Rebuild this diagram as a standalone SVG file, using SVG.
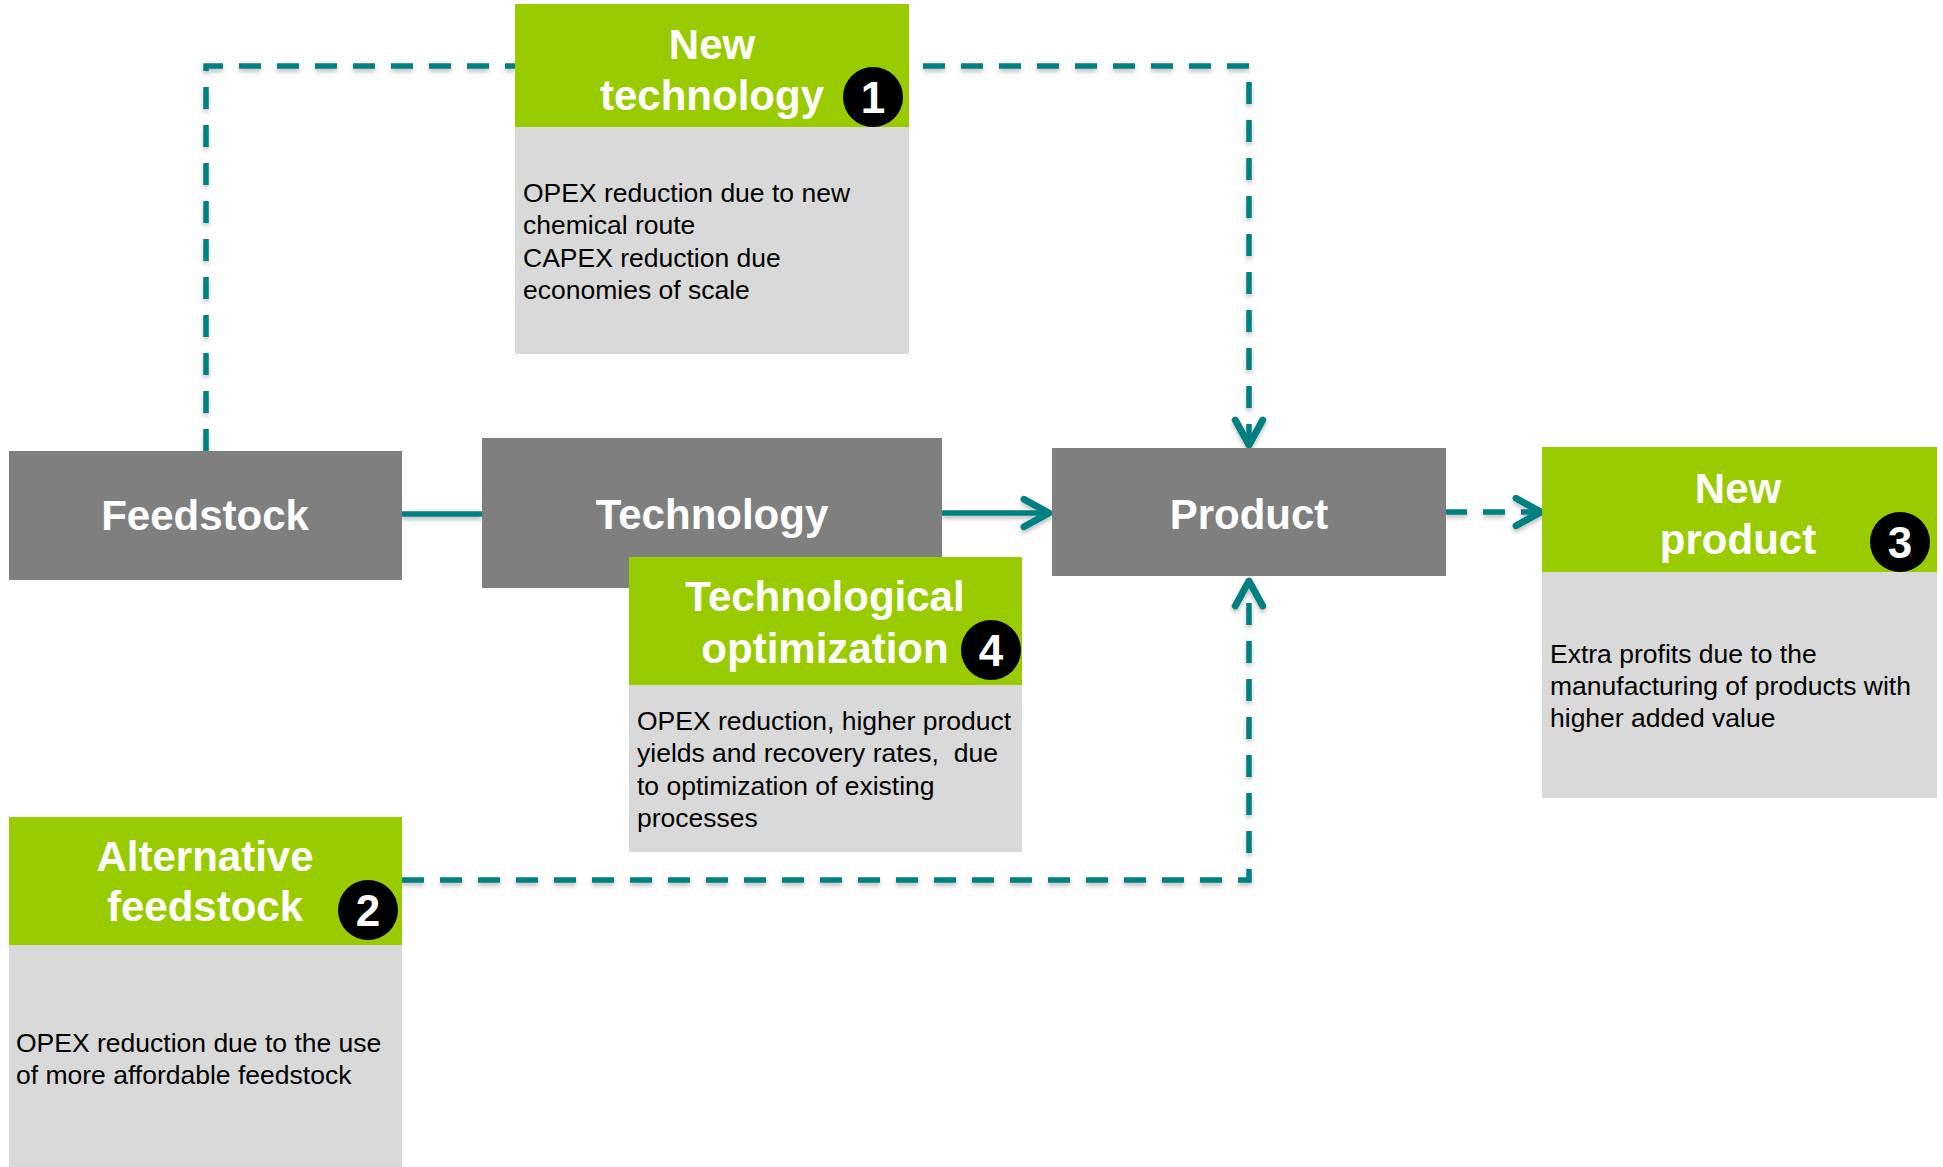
<svg xmlns="http://www.w3.org/2000/svg" width="1943" height="1167" viewBox="0 0 1943 1167">
<style>
.bg{fill:#ffffff}
.grey{fill:#7f7f7f}
.green{fill:#99cc00}
.light{fill:#d9d9d9}
.title{font-family:"Liberation Sans",Arial,sans-serif;font-weight:bold;font-size:42px;fill:#ffffff;text-anchor:middle}
.num{font-family:"Liberation Sans",Arial,sans-serif;font-weight:bold;font-size:44px;fill:#ffffff;text-anchor:middle}
.body{font-family:"Liberation Sans",Arial,sans-serif;font-size:26.5px;fill:#000000}
.conn{fill:none;stroke:#008080;stroke-width:5.5}
.dash{stroke-dasharray:22 16}
</style>
<defs>
<filter id="sh" x="-10%" y="-10%" width="120%" height="120%">
<feDropShadow dx="0" dy="3" stdDeviation="2" flood-color="#000000" flood-opacity="0.25"/>
</filter>
<marker id="arr" markerUnits="userSpaceOnUse" markerWidth="40" markerHeight="40" viewBox="-26 -16 30 32" refX="0" refY="0" orient="auto" overflow="visible">
<path d="M-20,-11 L0,0 L-20,11" fill="none" stroke="#008080" stroke-width="5.5" stroke-linecap="round" stroke-linejoin="round" stroke-dasharray="none"/>
</marker>
</defs>
<rect class="bg" x="0" y="0" width="1943" height="1167"/>

<g id="connectors" filter="url(#sh)">
<path class="conn dash" d="M206,451 L206,66 L515,66"/>
<path class="conn dash" style="stroke-dashoffset:23" d="M908,66 L1249,66 L1249,445" marker-end="url(#arr)"/>
<path class="conn dash" d="M402,880 L1249,880 L1249,581" marker-end="url(#arr)"/>
<path class="conn" d="M402,514 L482,514"/>
<path class="conn" d="M942,513 L1049,513" marker-end="url(#arr)"/>
<path class="conn dash" d="M1445,512 L1541,512" marker-end="url(#arr)"/>
</g>

<g id="feedstock">
<rect class="grey" x="9" y="451" width="393" height="129"/>
<text class="title" x="205" y="530">Feedstock</text>
</g>

<g id="technology">
<rect class="grey" x="482" y="438" width="460" height="150"/>
<text class="title" x="712" y="529">Technology</text>
</g>

<g id="product">
<rect class="grey" x="1052" y="448" width="394" height="128"/>
<text class="title" x="1249" y="529">Product</text>
</g>

<g id="new-technology">
<rect class="light" x="515" y="126" width="394" height="228"/>
<rect class="green" x="515" y="4" width="394" height="123"/>
<text class="title" x="712" y="59">New</text>
<text class="title" x="712" y="110">technology</text>
<circle cx="873" cy="97" r="30" fill="#000000"/>
<text class="num" x="873" y="113">1</text>
<text class="body" x="523" y="202">OPEX reduction due to new</text>
<text class="body" x="523" y="234">chemical route</text>
<text class="body" x="523" y="267">CAPEX reduction due</text>
<text class="body" x="523" y="299">economies of scale</text>
</g>

<g id="technological-optimization">
<rect class="light" x="629" y="684" width="393" height="168"/>
<rect class="green" x="629" y="557" width="393" height="128"/>
<text class="title" x="825" y="611">Technological</text>
<text class="title" x="825" y="663">optimization</text>
<circle cx="991" cy="650" r="30" fill="#000000"/>
<text class="num" x="991" y="666">4</text>
<text class="body" x="637" y="730">OPEX reduction, higher product</text>
<text class="body" x="637" y="762">yields and recovery rates,&#160; due</text>
<text class="body" x="637" y="795">to optimization of existing</text>
<text class="body" x="637" y="827">processes</text>
</g>

<g id="alternative-feedstock">
<rect class="light" x="9" y="944" width="393" height="223"/>
<rect class="green" x="9" y="817" width="393" height="128"/>
<text class="title" x="205" y="871">Alternative</text>
<text class="title" x="205" y="921">feedstock</text>
<circle cx="368" cy="910" r="30" fill="#000000"/>
<text class="num" x="368" y="926">2</text>
<text class="body" x="16" y="1052">OPEX reduction due to the use</text>
<text class="body" x="16" y="1084">of more affordable feedstock</text>
</g>

<g id="new-product">
<rect class="light" x="1542" y="571" width="395" height="227"/>
<rect class="green" x="1542" y="447" width="395" height="125"/>
<text class="title" x="1738" y="503">New</text>
<text class="title" x="1738" y="554">product</text>
<circle cx="1900" cy="542" r="30" fill="#000000"/>
<text class="num" x="1900" y="558">3</text>
<text class="body" x="1550" y="663">Extra profits due to the</text>
<text class="body" x="1550" y="695">manufacturing of products with</text>
<text class="body" x="1550" y="727">higher added value</text>
</g>
</svg>
